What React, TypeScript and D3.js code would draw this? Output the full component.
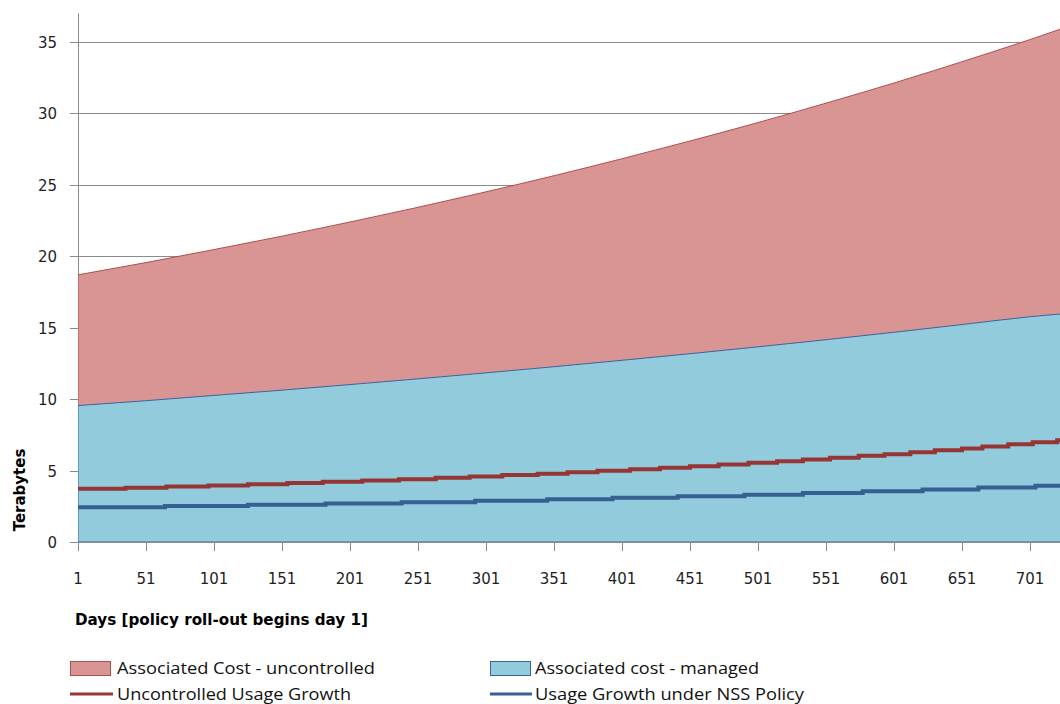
import React from "react";
import * as d3 from "d3";

// days at which the x axis shows a label
const tickDays = [1, 51, 101, 151, 201, 251, 301, 351, 401, 451, 501, 551, 601, 651, 701];
const yTicks = [0, 5, 10, 15, 20, 25, 30, 35];

// area tops, sampled at every labelled day plus the last day
const costDays = [1, 51, 101, 151, 201, 251, 301, 351, 401, 451, 501, 551, 601, 651, 701, 730];
const costUncontrolled = [18.7, 19.56, 20.47, 21.41, 22.4, 23.43, 24.51, 25.64, 26.83, 28.07, 29.36, 30.72, 32.13, 33.62, 35.17, 36.12];
const costManaged = [9.55, 9.89, 10.26, 10.63, 11.02, 11.42, 11.84, 12.27, 12.72, 13.18, 13.66, 14.16, 14.68, 15.22, 15.77, 16.02];

// stepped usage lines: day where a new value starts, and that value
const uncontrolledDays = [1, 36, 66, 97, 126, 155, 181, 210, 237, 264, 289, 313, 339, 361, 383, 407, 429, 451, 472, 494, 515, 534, 554, 575, 594, 613, 631, 651, 666, 685, 703, 721, 730];
const uncontrolledUsage = [3.72, 3.8, 3.88, 3.96, 4.05, 4.13, 4.22, 4.31, 4.4, 4.49, 4.59, 4.69, 4.78, 4.89, 4.99, 5.1, 5.2, 5.31, 5.43, 5.54, 5.66, 5.78, 5.9, 6.03, 6.15, 6.29, 6.42, 6.55, 6.69, 6.84, 6.98, 7.13, 7.13];
const nssDays = [1, 65, 126, 183, 239, 293, 346, 394, 442, 491, 534, 578, 622, 663, 705, 730];
const nssUsage = [2.43, 2.52, 2.6, 2.7, 2.79, 2.89, 2.99, 3.09, 3.2, 3.31, 3.43, 3.55, 3.68, 3.81, 3.94, 3.94];

const W = 1060;
const H = 704;
const left = 78;
const bottom = 542;

const fillRed = "#d99594";
const fillBlue = "#92cbdc";
const lineRed = "#963634";
const lineBlue = "#376092";
const gridCol = "#8a8a8a";

const x = d3.scaleLinear().domain([1, 730]).range([left, left + 729 * 1.36]);
const y = d3.scaleLinear().domain([0, 37]).range([bottom, bottom - 37 * (500 / 35)]);

const App: React.FC = () => {
  const redArea = d3
    .area<number>()
    .x((_, i) => x(costDays[i]))
    .y0(y(0))
    .y1((d) => y(d))
    .curve(d3.curveMonotoneX);

  const step = d3
    .line<number>()
    .curve(d3.curveStepAfter);

  const redLine = step.x((_, i) => x(uncontrolledDays[i])).y((d) => y(d))(uncontrolledUsage);
  const blueLine = d3
    .line<number>()
    .curve(d3.curveStepAfter)
    .x((_, i) => x(nssDays[i]))
    .y((d) => y(d))(nssUsage);

  const font = "'DejaVu Sans', Verdana, sans-serif";
  const legendFont = "'Open Sans', 'Liberation Sans', sans-serif";
  const top = y(37);

  return (
    <svg width={W} height={H} style={{ position: "absolute", left: 0, top: 0, background: "#fff" }}>
      <defs>
        <clipPath id="plot">
          <rect x={left} y={0} width={W - left} height={bottom + 1} />
        </clipPath>
      </defs>

      {/* gridlines */}
      {yTicks.map((t) => (
        <line key={t} x1={70} x2={W} y1={Math.round(y(t)) + 0.5} y2={Math.round(y(t)) + 0.5} stroke={gridCol} strokeWidth={1} />
      ))}
      <line x1={left + 0.5} x2={left + 0.5} y1={top} y2={bottom} stroke={gridCol} />

      <g clipPath="url(#plot)">
        <path d={redArea(costUncontrolled) ?? ""} fill={fillRed} stroke="#b0504e" strokeWidth={1} />
        <path d={redArea(costManaged) ?? ""} fill={fillBlue} stroke="#3a64a0" strokeWidth={1} />
        <path d={redLine ?? ""} fill="none" stroke={lineRed} strokeWidth={4} />
        <path d={blueLine ?? ""} fill="none" stroke={lineBlue} strokeWidth={4} />
      </g>

      {/* x axis */}
      <line x1={left} x2={W} y1={bottom + 0.5} y2={bottom + 0.5} stroke={gridCol} />
      {tickDays.map((d) => (
        <g key={d}>
          <line x1={Math.round(x(d)) + 0.5} x2={Math.round(x(d)) + 0.5} y1={bottom} y2={bottom + 9} stroke={gridCol} />
          <text x={x(d)} y={584} textAnchor="middle" fontFamily={font} fontSize={15} fill="#1f1f1f">
            {d}
          </text>
        </g>
      ))}
      {yTicks.map((t) => (
        <text key={t} x={57} y={y(t) + 6} textAnchor="end" fontFamily={font} fontSize={15} fill="#1f1f1f">
          {t}
        </text>
      ))}

      <text x={75} y={625} fontFamily={font} fontWeight="bold" fontSize={15} textLength={293} lengthAdjust="spacingAndGlyphs" fill="#000">
        Days [policy roll-out begins day 1]
      </text>
      <text transform="translate(25,490) rotate(-90)" textAnchor="middle" fontFamily={font} fontWeight="bold" fontSize={15} fill="#000">
        Terabytes
      </text>

      {/* legend */}
      <rect x={70.5} y={661.5} width={40} height={14} fill={fillRed} stroke="#b0504e" />
      <text x={117} y={674} fontFamily={legendFont} fontSize={16} textLength={258} lengthAdjust="spacingAndGlyphs" fill="#111">
        Associated Cost - uncontrolled
      </text>
      <rect x={490.5} y={661.5} width={40} height={14} fill={fillBlue} stroke="#3a64a0" />
      <text x={535} y={674} fontFamily={legendFont} fontSize={16} textLength={224} lengthAdjust="spacingAndGlyphs" fill="#111">
        Associated cost - managed
      </text>
      <line x1={70} x2={113} y1={694} y2={694} stroke={lineRed} strokeWidth={3} />
      <text x={117} y={700} fontFamily={legendFont} fontSize={16} textLength={234} lengthAdjust="spacingAndGlyphs" fill="#111">
        Uncontrolled Usage Growth
      </text>
      <line x1={490} x2={532} y1={694} y2={694} stroke={lineBlue} strokeWidth={3} />
      <text x={535} y={700} fontFamily={legendFont} fontSize={16} textLength={269} lengthAdjust="spacingAndGlyphs" fill="#111">
        Usage Growth under NSS Policy
      </text>
    </svg>
  );
};

export default App;
